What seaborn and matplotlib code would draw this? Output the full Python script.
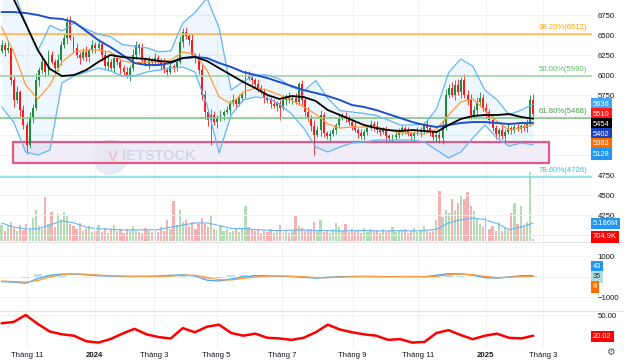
import numpy as np
import pandas as pd
import seaborn as sns
import matplotlib.pyplot as plt
from matplotlib.patches import Rectangle, Ellipse
from matplotlib.transforms import blended_transform_factory

sns.set_theme(style="white")
plt.rcParams['font.family'] = ['Liberation Sans', 'DejaVu Sans']

# ---- data (each candle = 2 trading days) ----
last_day = "2025-02-21"
vn_holidays = ["2024-01-01", "2024-02-08", "2024-02-09", "2024-02-12", "2024-02-13",
               "2024-02-14", "2024-04-18", "2024-04-29", "2024-04-30", "2024-05-01",
               "2024-09-02", "2024-09-03", "2025-01-01", "2025-01-27", "2025-01-28",
               "2025-01-29", "2025-01-30", "2025-01-31"]

first_open = 6300
close = [6375, 6312, 6337, 5937, 5687, 5787, 5562, 5375, 5125, 5462,
         5587, 5937, 6062, 6162, 6037, 6250, 6162, 6087, 6187, 6375,
         6462, 6662, 6462, 6337, 6250, 6212, 6287, 6225, 6312, 6375,
         6337, 6387, 6250, 6112, 6162, 6087, 6212, 6162, 6087, 6037,
         5987, 6087, 6250, 6375, 6337, 6187, 6137, 6187, 6162,
         6212, 6187, 6137, 6062, 6037, 6112, 6087, 6162, 6412, 6537,
         6487, 6437, 6250, 6225, 6062, 5750, 5537, 5437, 5500, 5412,
         5462, 5500, 5537, 5562, 5650, 5687, 5637, 5712, 5750, 6000,
         5962, 5937, 5887, 5837, 5787, 5712, 5687, 5637, 5612, 5650,
         5587, 5687, 5737, 5687, 5712, 5662, 5887, 5687, 5537, 5462,
         5362, 5250, 5312, 5500, 5275, 5237, 5262, 5312, 5375,
         5462, 5487, 5475, 5412, 5362, 5312, 5275, 5237, 5287, 5337,
         5387, 5362, 5312, 5287, 5312, 5237, 5212, 5225, 5250, 5312,
         5337, 5300, 5262, 5237, 5275, 5287, 5312, 5387, 5337, 5287,
         5225, 5250, 5212, 5375, 5750, 5837, 5750, 5875, 5787,
         5937, 5750, 5687, 5500, 5562, 5662, 5712, 5587, 5537, 5437,
         5337, 5262, 5312, 5237, 5287, 5337, 5312, 5350, 5325, 5362,
         5337, 5387, 5687, 5510]
# shadow lengths above / below the body
wick_up = [60, 40, 90, 30, 50, 80, 30, 60, 40, 70,
           50, 90, 40, 70, 30, 60, 50, 40, 80, 50,
           60, 40, 70, 30, 60, 40, 50, 70, 30, 60,
           40, 60, 30, 50, 70, 40, 60, 30, 50, 40,
           60, 40, 70, 50, 30, 60, 40, 50, 30,
           60, 40, 30, 70, 40, 50, 30, 60, 80, 40,
           60, 40, 70, 30, 50, 80, 60, 40, 70, 50,
           40, 60, 30, 50, 40, 70, 30, 50, 40, 60,
           50, 40, 30, 60, 40, 50, 30, 40, 60, 30,
           40, 60, 30, 50, 40, 60, 30, 50, 40, 60,
           40, 70, 50, 60, 40, 30, 50, 40, 30,
           60, 40, 50, 30, 40, 60, 30, 50, 40, 30,
           50, 40, 60, 30, 40, 50, 30, 40, 60, 30,
           40, 30, 50, 40, 30, 60, 40, 30, 50, 40,
           30, 40, 50, 60, 80, 50, 70, 60, 80,
           40, 80, 60, 70, 50, 60, 80, 50, 60, 40,
           50, 40, 30, 60, 40, 50, 30, 40, 50, 30,
           40, 60, 60, 80]
wick_dn = [30, 70, 40, 60, 90, 40, 70, 50, 110, 40,
           60, 30, 80, 40, 60, 50, 30, 70, 40, 60,
           40, 70, 30, 60, 40, 70, 30, 50, 60, 40,
           60, 30, 70, 40, 50, 30, 60, 40, 70, 50,
           30, 60, 40, 50, 70, 40, 30, 60, 40,
           30, 50, 70, 40, 60, 30, 50, 40, 30, 60,
           40, 60, 30, 70, 50, 60, 90, 70, 50, 40,
           70, 40, 60, 30, 50, 40, 60, 30, 50, 40,
           30, 60, 40, 50, 30, 60, 40, 50, 30, 60,
           50, 30, 60, 40, 50, 30, 40, 60, 50, 40,
           60, 40, 30, 80, 50, 40, 60, 30, 50,
           40, 30, 60, 40, 50, 30, 60, 40, 50, 40,
           30, 60, 40, 50, 30, 60, 40, 50, 30, 40,
           60, 40, 30, 50, 40, 30, 60, 40, 30, 50,
           40, 60, 40, 70, 60, 40, 30, 60, 40,
           70, 40, 60, 50, 40, 70, 50, 40, 60, 50,
           40, 60, 50, 40, 60, 30, 50, 40, 30, 50,
           40, 50, 30, 60]
wick_high = {21: 6725, 58: 6590, 147: 5975, 169: 5750}
wick_low = {8: 5010, 67: 5125, 89: 5437, 100: 5000, 140: 5150}

volume = [4.5, 3.0, 4.2, 5.5, 3.8, 2.8, 4.6, 3.2, 5.0, 3.6,
          6.5, 9.0, 4.2, 3.5, 12.7, 5.0, 8.5, 4.0, 7.8, 6.0,
          8.5, 7.2, 5.0, 4.2, 3.5, 5.2, 2.8, 3.6, 4.2, 2.5,
          3.0, 4.5, 2.6, 3.8, 2.4, 3.2, 4.6, 2.8, 3.4, 2.2,
          3.6, 2.8, 4.2, 3.0, 2.6, 2.4, 3.8, 2.9, 2.5,
          3.3, 2.6, 4.0, 2.8, 6.0, 3.5, 11.5, 4.5, 9.0, 5.5,
          6.0, 4.2, 5.5, 3.5, 4.8, 6.5, 5.0, 4.0, 7.5, 3.6,
          3.2, 4.4, 2.8, 3.6, 2.5, 3.0, 3.8, 2.6, 3.4, 10.0,
          4.0, 3.2, 2.8, 3.6, 2.4, 3.0, 2.6, 3.4, 2.2, 2.9,
          4.5, 2.6, 3.2, 2.4, 3.0, 7.5, 4.2, 3.8, 3.0, 3.4,
          3.6, 5.5, 3.0, 6.0, 2.6, 3.2, 2.4, 3.6, 5.2,
          4.0, 3.0, 5.0, 2.6, 3.4, 2.8, 3.0, 2.4, 3.8, 2.6,
          3.6, 2.8, 3.2, 2.4, 3.4, 2.6, 3.0, 4.0, 2.6, 3.2,
          2.8, 3.6, 2.4, 3.0, 3.8, 2.6, 3.2, 4.4, 3.0, 2.6,
          2.8, 6.0, 14.5, 7.0, 9.0, 8.0, 12.0, 9.0, 11.0,
          13.0, 12.0, 14.0, 10.0, 8.6, 6.5, 5.0, 4.0, 6.8, 3.4,
          4.2, 3.0, 5.5, 2.8, 4.0, 3.2, 8.0, 11.0, 5.0, 10.0,
          4.0, 5.5, 20.0, 0.7]

# indicator lines, sampled evenly over the candle span (last value = current)
ma_black = [7250, 6950, 6637, 6312, 6075, 5987, 6000, 6062, 6162, 6250, 6225, 6212,
            6200, 6175, 6162, 6212, 6225, 6175, 6087, 6000, 5912, 5837, 5750, 5700,
            5737, 5725, 5675, 5562, 5500, 5437, 5375, 5337, 5312, 5300, 5312, 5300,
            5287, 5375, 5450, 5487, 5500, 5500, 5512, 5475, 5454]
ma_blue = [6787, 6787, 6775, 6750, 6712, 6700, 6662, 6550, 6437, 6350, 6250, 6150,
           6125, 6125, 6150, 6212, 6225, 6212, 6150, 6100, 6037, 6000, 5962, 5912,
           5862, 5812, 5775, 5737, 5687, 5625, 5600, 5562, 5512, 5462, 5412, 5375,
           5350, 5375, 5400, 5412, 5412, 5400, 5387, 5400, 5402]
bb_mid = [6600, 6287, 5875, 5700, 5875, 6162, 6287, 6312, 6312, 6287, 6175, 6150,
          6162, 6162, 6187, 6287, 6262, 6062, 5725, 5637, 5787, 5837, 5812, 5750,
          5687, 5600, 5512, 5387, 5337, 5350, 5350, 5350, 5312, 5275, 5275, 5262,
          5325, 5500, 5662, 5700, 5562, 5425, 5312, 5340, 5382]
bb_up = [7400, 7050, 6650, 6300, 6620, 6550, 6650, 6575, 6510, 6480, 6380, 6360,
         6340, 6290, 6300, 6650, 6780, 6960, 6590, 5810, 5920, 6000, 6000, 5950,
         5850, 5800, 5930, 5710, 5555, 5537, 5520, 5495, 5437, 5375, 5375, 5387,
         5575, 6030, 6200, 6110, 5810, 5690, 5505, 5560, 5636]
bb_lo = [5600, 5412, 5037, 5000, 5062, 5900, 5987, 6037, 6087, 6050, 5987, 5987,
         6037, 6062, 6087, 6100, 6037, 5625, 5025, 5500, 5687, 5725, 5712, 5637,
         5512, 5337, 5100, 5037, 5100, 5150, 5162, 5187, 5187, 5187, 5187, 5162,
         5062, 4962, 5037, 5212, 5375, 5212, 5112, 5150, 5128]
vol_ma = [5.2, 4.0, 3.5, 3.5, 4.6, 5.8, 5.2, 4.0, 3.5, 3.4, 3.2, 3.2, 3.2, 3.3, 4.0,
          4.6, 5.2, 5.2, 4.5, 3.6, 3.6, 3.3, 3.1, 3.0, 3.1, 3.2, 3.0, 3.0, 2.9, 3.0,
          3.0, 2.9, 2.9, 3.0, 2.9, 3.0, 3.4, 5.2, 6.1, 6.6, 6.2, 5.0, 3.3, 4.0, 5.186]
macd = [-250, -270, -330, -100, 60, 120, 120, 80, 40, 20, 0, 0, 10, 20, 60, 80, 30,
        -180, -220, -120, -20, 40, 40, 10, 0, -40, -80, -50, -10, 0, 10, 0, -10, 0,
        0, -10, 60, 140, 130, 60, -60, -80, -30, 40, 43]
macd_signal = [-220, -250, -270, -200, -20, 80, 130, 110, 70, 40, 20, 10, 0, 10, 20,
               60, 60, -40, -150, -170, -100, -30, 20, 25, 10, -10, -50, -60, -30,
               -15, -5, 0, -5, -5, 0, -5, 10, 80, 120, 90, 10, -50, -40, 0, 8]
adx = [38, 40, 50, 37, 26, 22, 20, 12, 10, 15, 23, 30, 22, 18, 16, 31, 25, 33, 36,
       24, 20, 23, 17, 16, 14, 17, 25, 36, 29, 25, 22, 20, 14, 15, 10, 11, 24, 28,
       21, 15, 20, 23, 17, 16, 20.02]

fib_levels = [6512, 5990, 5468, 4726]
fib_names = ["38.20%(6512)", "50.00%(5990)", "61.80%(5468)", "78.60%(4726)"]
fib_line_colors = ["#ffb74d", "#a5d6a7", "#81c784", "#80deea"]
fib_text_colors = ["#ffa000", "#66bb6a", "#43a047", "#26c6da"]
zone_price = (4900, 5162)
zone_candles = (3.7, 175.0)

price_ticks = [6750, 6500, 6250, 6000, 5750, 5500, 5250, 5000, 4750, 4500, 4250, 4000]
price_shown = [6750, 6500, 6250, 6000, 5750, 4750, 4500, 4250]

price_tags = [("5636", "#42a5f5"), ("5510", "#ff1a1a"), ("5454", "#000000"),
              ("5402", "#1e3fbf"), ("5382", "#ff6d00"), ("5128", "#2196f3")]
volume_tags = [("5.186M", "#2196f3"), ("704.9K", "#ff0000")]
macd_tags = [("43", "#2196f3", "white"), ("35", "#b2dfdb", "#263238"), ("8", "#ff6d00", "white")]

# ---- derived ----
close = np.array(close, dtype=float)
n = len(close)
x = np.arange(n)
opens = np.r_[first_open, close[:-1]]
up = close >= opens
top = np.maximum(opens, close) + np.array(wick_up)
bot = np.minimum(opens, close) - np.array(wick_dn)
for i, v in wick_high.items():
    top[i] = v
for i, v in wick_low.items():
    bot[i] = v
line_x = np.linspace(0, n - 1, len(ma_black))

days = pd.bdate_range("2023-09-01", "2025-04-30", freq="C", holidays=vn_holidays)
end_i = days.get_loc(pd.Timestamp(last_day))
start_i = end_i - 2 * n + 1
day_x = (np.arange(len(days)) - start_i - 0.5) / 2
x_view = (-0.5, 188.8)
first_of_month = ~pd.Index(days.to_period("M")).duplicated()
tick_x, tick_lab = [], []
for d, dx, f in zip(days, day_x, first_of_month):
    if f and d.month % 2 == 1 and x_view[0] < dx < x_view[1]:
        tick_x.append(dx)
        tick_lab.append(str(d.year) if d.month == 1 else f"Tháng {d.month}")

# ---- figure ----
W, H = 624, 364
fig = plt.figure(figsize=(W / 100, H / 100), dpi=100)


def box(x0, y0, x1, y1):
    return [x0 / W, 1 - y1 / H, (x1 - x0) / W, (y1 - y0) / H]


ax_v = fig.add_axes(box(0, 0, 592, 241))
ax_p = fig.add_axes(box(0, 0, 592, 241), sharex=ax_v)
ax_m = fig.add_axes(box(0, 242, 592, 310), sharex=ax_v)
ax_a = fig.add_axes(box(0, 311, 592, 348), sharex=ax_v)
ax_v.set_zorder(0)
ax_p.set_zorder(1)
ax_p.patch.set_visible(False)

grid_c = "#eef1f7"
tick_c = "#131722"
for ax in (ax_v, ax_p, ax_m, ax_a):
    for s in ax.spines.values():
        s.set_visible(False)
    ax.tick_params(length=0, labelsize=5.6, colors=tick_c)
    ax.set_xticks(tick_x)
    ax.tick_params(axis="x", labelbottom=False)
    ax.grid(axis="x", color=grid_c, lw=0.7)
ax_v.set_xlim(*x_view)

# volume (bottom of price pane)
vol_colors = np.where(up, "#a5d6a7", "#f4a4a4")
ax_v.bar(x, volume, width=0.72, color=vol_colors, alpha=0.85, linewidth=0)
sns.lineplot(x=line_x, y=vol_ma, ax=ax_v, color="#64b5f6", linewidth=0.8)
ax_v.set_ylim(0, 69.5)
ax_v.set_yticks([])
ax_v.set_xlabel("")
ax_v.set_ylabel("")

# price pane
ax_p.set_ylim(3925, 6937.5)
ax_p.yaxis.tick_right()
ax_p.set_yticks(price_ticks)
ax_p.set_yticklabels([str(t) if t in price_shown else "" for t in price_ticks])
ax_p.tick_params(axis="y", pad=4)
ax_p.grid(axis="y", color=grid_c, lw=0.7)

ax_p.add_patch(Rectangle((zone_candles[0], zone_price[0]), zone_candles[1] - zone_candles[0],
                         zone_price[1] - zone_price[0], facecolor="#ede7f6", alpha=0.75,
                         edgecolor="#e0245e", linewidth=1.6, zorder=1))

ax_p.fill_between(line_x, bb_lo, bb_up, color="#2196f3", alpha=0.07, linewidth=0, zorder=1)

# candles
cand_col = np.where(up, "#1e8c3a", "#ff1a1a")
body = close - opens
body = np.where(np.abs(body) < 12, np.where(up, 12, -12), body)
ax_p.vlines(x, bot, top, colors=cand_col, linewidth=0.6, zorder=3)
ax_p.bar(x, body, bottom=opens, width=0.62, color=cand_col, linewidth=0, zorder=3)

sns.lineplot(x=line_x, y=bb_up, ax=ax_p, color="#64b5f6", linewidth=0.9, zorder=5)
sns.lineplot(x=line_x, y=bb_lo, ax=ax_p, color="#64b5f6", linewidth=0.9, zorder=5)
sns.lineplot(x=line_x, y=bb_mid, ax=ax_p, color="#ff9a3c", linewidth=0.9, zorder=5)
sns.lineplot(x=line_x, y=ma_blue, ax=ax_p, color="#1f4fd1", linewidth=1.4, zorder=5)
sns.lineplot(x=line_x, y=ma_black, ax=ax_p, color="#000000", linewidth=1.3, zorder=5)

tr = blended_transform_factory(ax_p.transAxes, ax_p.transData)
for lvl, name, lc, tc in zip(fib_levels, fib_names, fib_line_colors, fib_text_colors):
    ax_p.axhline(lvl, color=lc, linewidth=1.2, zorder=4)
    ax_p.annotate(name, (0.992, lvl), xycoords=tr, xytext=(0, 2), textcoords="offset points",
                  ha="right", va="bottom", fontsize=5.6, color=tc)
ax_p.set_xlabel("")
ax_p.set_ylabel("")

# macd pane
ax_m.set_ylim(-1634, 1683)
ax_m.yaxis.tick_right()
ax_m.set_yticks([1000, 0, -1000])
ax_m.set_yticklabels(["1000", "", "\u22121000"])
ax_m.tick_params(axis="y", pad=4)
ax_m.grid(axis="y", color=grid_c, lw=0.7)
hist = np.array(macd) - np.array(macd_signal)
ax_m.bar(line_x, hist, width=2.5, color=np.where(hist >= 0, "#26a69a", "#ef5350"),
         alpha=0.3, linewidth=0)
sns.lineplot(x=line_x, y=macd, ax=ax_m, color="#42a5f5", linewidth=0.9)
sns.lineplot(x=line_x, y=macd_signal, ax=ax_m, color="#ff9a3c", linewidth=0.9)
ax_m.set_xlabel("")
ax_m.set_ylabel("")

# adx pane
ax_a.set_ylim(2.2, 55.8)
ax_a.yaxis.tick_right()
ax_a.set_yticks([50])
ax_a.set_yticklabels(["50.00"])
ax_a.tick_params(axis="y", pad=4)
ax_a.grid(axis="y", color=grid_c, lw=0.7)
sns.lineplot(x=line_x, y=adx, ax=ax_a, color="#ff0000", linewidth=1.8)
ax_a.set_xticklabels(tick_lab)
ax_a.tick_params(axis="x", labelbottom=True, pad=3)
for t in ax_a.get_xticklabels():
    if t.get_text().isdigit():
        t.set_fontweight("bold")
ax_a.set_xlabel("")
ax_a.set_ylabel("")

# pane separators
for yy in (241.5, 310.5):
    fig.add_artist(plt.Line2D([0, 1], [1 - yy / H] * 2, color="#e0e3eb", linewidth=0.8))

# right-hand value tags


def tag(text, y_px, fc, tc="white"):
    fig.text(593 / W, 1 - y_px / H, text, ha="left", va="center", fontsize=5.4, color=tc,
             bbox=dict(boxstyle="square,pad=0.28", fc=fc, ec="none"))


for k, (t, c) in enumerate(price_tags):
    tag(t, 104 + 10 * k, c)
tag(volume_tags[0][0], 223.5, volume_tags[0][1])
tag(volume_tags[1][0], 237, volume_tags[1][1])
for k, (t, c, tc) in enumerate(macd_tags):
    tag(t, 267 + 10 * k, c, tc)
tag("20.02", 336.5, "#ff0000")

# watermark
fig.add_artist(Ellipse((110 / W, 1 - 157 / H), 34 / W, 34 / H, color="#d6deec", alpha=0.55))
fig.text(113 / W, 1 - 157 / H, "V", fontsize=11, fontweight="bold", color="#f2b8c0",
         alpha=0.8, ha="center", va="center")
fig.text(122 / W, 1 - 156 / H, "IETSTOCK", fontsize=10.5, fontweight="bold", color="#c9d3e6",
         alpha=0.8, ha="left", va="center")

fig.text(610 / W, 1 - 352 / H, "\u2699", fontsize=7, color="#50535e", ha="center", va="center",
         family="DejaVu Sans")

fig.savefig("out.png", dpi=100)
